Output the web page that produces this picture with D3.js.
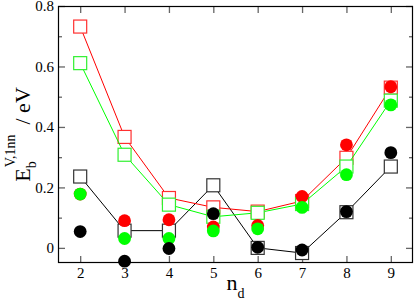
<!DOCTYPE html>
<html>
  <head>
    <script src="https://d3js.org/d3.v7.min.js"></script>
    <style>
      body { margin: 0; background: #fff; }
      text { font-family: "Liberation Serif", "DejaVu Serif", serif; fill: #000; }
    </style>
  </head>
  <body>
    <div id="chart"></div>
  <script>
    // n_d values on the x axis
    var nd = [2, 3, 4, 5, 6, 7, 8, 9];

    // open squares joined by lines
    var redSquares   = [0.732, 0.367, 0.165, 0.134, 0.120, 0.155, 0.298, 0.530];
    var greenSquares = [0.611, 0.308, 0.143, 0.103, 0.116, 0.145, 0.269, 0.487];
    var blackSquares = [0.236, 0.057, 0.057, 0.207, 0.000, -0.017, 0.118, 0.269];

    // filled circles
    var redCircles   = [0.178, 0.090, 0.093, 0.069, 0.074, 0.170, 0.341, 0.533];
    var greenCircles = [0.178, 0.031, 0.031, 0.056, 0.063, 0.134, 0.242, 0.473];
    var blackCircles = [0.054, -0.044, -0.002, 0.113, 0.002, -0.007, 0.120, 0.315];

    var yMajor = [0, 0.2, 0.4, 0.6, 0.8];
    var yMinor = [0.1, 0.3, 0.5, 0.7];

    var width = 415,
        height = 301;
    var margin = {top: 6, right: 2, bottom: 38, left: 58};
    var serif = '"Liberation Serif", "DejaVu Serif", serif';

    var svg = d3.select("#chart").append("svg")
        .attr("width", width)
        .attr("height", height)
        .attr("font-family", serif);

    var x = d3.scaleLinear()
        .domain([1.5, 9.5])
        .range([margin.left, width - margin.right]);

    var y = d3.scaleLinear()
        .domain([-0.05, 0.8])
        .range([height - margin.bottom, margin.top]);

    var tickColor = "#666";

    function styleAxis(g) {
      g.attr("font-family", serif).attr("font-size", 15);
      g.select(".domain").remove();
      g.selectAll(".tick line").attr("stroke", tickColor).attr("stroke-width", 1.3);
      g.selectAll("text").attr("font-size", 15).attr("fill", "#000");
    }

    // bottom + top
    svg.append("g")
        .attr("transform", `translate(0,${y.range()[0]})`)
        .call(d3.axisBottom(x).tickValues(nd).tickSize(-7).tickPadding(4.5).tickFormat(d3.format("d")))
        .call(styleAxis);
    svg.append("g")
        .attr("transform", `translate(0,${y.range()[1]})`)
        .call(d3.axisTop(x).tickValues(nd).tickSize(-7).tickFormat(""))
        .call(styleAxis);

    // left + right, major and minor
    svg.append("g")
        .attr("transform", `translate(${x.range()[0]},0)`)
        .call(d3.axisLeft(y).tickValues(yMajor).tickSize(-7).tickPadding(4)
          .tickFormat(function(d) { return d === 0 ? "0" : d.toFixed(1); }))
        .call(styleAxis);
    svg.append("g")
        .attr("transform", `translate(${x.range()[0]},0)`)
        .call(d3.axisLeft(y).tickValues(yMinor).tickSize(-4).tickFormat(""))
        .call(styleAxis);
    svg.append("g")
        .attr("transform", `translate(${x.range()[1]},0)`)
        .call(d3.axisRight(y).tickValues(yMajor).tickSize(-7).tickFormat(""))
        .call(styleAxis);
    svg.append("g")
        .attr("transform", `translate(${x.range()[1]},0)`)
        .call(d3.axisRight(y).tickValues(yMinor).tickSize(-4).tickFormat(""))
        .call(styleAxis);

    // frame
    svg.append("rect")
        .attr("x", x.range()[0] + 0.5)
        .attr("y", y.range()[1] + 0.5)
        .attr("width", x.range()[1] - x.range()[0] - 1)
        .attr("height", y.range()[0] - y.range()[1] - 1)
        .attr("fill", "none")
        .attr("stroke", "#000")
        .attr("stroke-width", 1.2);

    var line = d3.line()
        .x(function(d, i) { return x(nd[i]); })
        .y(function(d) { return y(d); });

    var sq = 13, r = 6.4;

    // square series, drawn black first, then red, then green
    var squareSeries = [
      {values: blackSquares, color: "#000000", stroke: "#333"},
      {values: redSquares,   color: "#ff0000", stroke: "#ff3030"},
      {values: greenSquares, color: "#00ff00", stroke: "#30f030"}
    ];

    squareSeries.forEach(function(s) {
      svg.append("path")
          .datum(s.values)
          .attr("d", line)
          .attr("fill", "none")
          .attr("stroke", s.color)
          .attr("stroke-width", 1);

      svg.append("g").selectAll("rect")
          .data(s.values)
          .enter()
          .append("rect")
            .attr("x", function(d, i) { return x(nd[i]) - sq / 2; })
            .attr("y", function(d) { return y(d) - sq / 2; })
            .attr("width", sq)
            .attr("height", sq)
            .attr("fill", "#fff")
            .attr("stroke", s.stroke)
            .attr("stroke-width", 1.2);
    });

    // circle series on top
    var circleSeries = [
      {values: redCircles,   color: "#ff0000"},
      {values: greenCircles, color: "#00ff00"},
      {values: blackCircles, color: "#000000"}
    ];

    circleSeries.forEach(function(s) {
      svg.append("g").selectAll("circle")
          .data(s.values)
          .enter()
          .append("circle")
            .attr("cx", function(d, i) { return x(nd[i]); })
            .attr("cy", function(d) { return y(d); })
            .attr("r", r)
            .attr("fill", s.color);
    });

    // x axis label: n_d
    var xl = svg.append("text")
        .attr("x", (x.range()[0] + x.range()[1]) / 2)
        .attr("y", 290)
        .attr("text-anchor", "middle")
        .attr("font-size", 22);
    xl.append("tspan").text("n");
    xl.append("tspan").attr("font-size", 14).attr("dy", 8).text("d");

    // y axis label: E_b^{V,1nn} / eV
    var cy = (y.range()[0] + y.range()[1]) / 2;
    var yl = svg.append("g")
        .attr("transform", `translate(30,${cy}) rotate(-90)`);

    var tE = yl.append("text").attr("font-size", 22).text("E");
    var tSub = yl.append("text").attr("font-size", 14).attr("y", 6).text("b");
    var tSup = yl.append("text").attr("font-size", 14).attr("y", -15).text("V,1nn");
    var tRest = yl.append("text").attr("font-size", 22).text("/ eV");

    var wE = tE.node().getComputedTextLength(),
        wSup = tSup.node().getComputedTextLength(),
        wRest = tRest.node().getComputedTextLength();
    var gap = 10;
    var start = -(wE + 1 + wSup + gap + wRest) / 2;

    tE.attr("x", start);
    tSub.attr("x", start + wE);
    tSup.attr("x", start + wE + 1);
    tRest.attr("x", start + wE + 1 + wSup + gap);
  </script>
  </body>
</html>
